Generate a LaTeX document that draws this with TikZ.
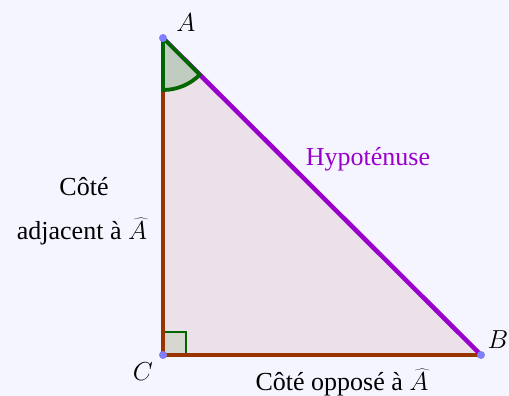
\RequirePackage{fix-cm}
\documentclass[tikz,border=0pt]{standalone}
\usepackage{fontspec}
\setmainfont{Liberation Serif}
\definecolor{bgc}{HTML}{F5F5FF}
\definecolor{trifill}{HTML}{ECE1E8}
\definecolor{sidec}{HTML}{993300}
\definecolor{hypc}{HTML}{9900CC}
\definecolor{angc}{HTML}{006600}
\definecolor{angfill}{HTML}{C0CCC0}
\definecolor{rafill}{HTML}{D6D6D0}
\definecolor{ptc}{HTML}{7F7FFF}
\begin{document}
\begin{tikzpicture}[x=1pt,y=-1pt,
  lbl/.style={anchor=base,inner sep=0pt,font=\fontsize{26}{31}\selectfont},
  side/.style={draw=sidec,line width=4.2pt},
  pt/.style={circle,fill=ptc,inner sep=0pt,minimum size=8pt}]
\fill[bgc] (0,0) rectangle (509,396);
\useasboundingbox (0,0) rectangle (509,396);
\coordinate (A) at (163,38);
\coordinate (B) at (481,355);
\coordinate (C) at (163,355);
\fill[trifill] (A) -- (B) -- (C) -- cycle;
\filldraw[fill=rafill,draw=angc,line width=1.6pt] (C) rectangle ++(23,-23);
\draw[side] (A) -- (C) -- (B);
\draw[hypc,line width=4.5pt] (A) -- (B);
\filldraw[fill=angfill,draw=angc,line width=3.8pt,line join=round] (A) -- ++(-90:52pt) arc[start angle=-90,end angle=-45,radius=52pt] -- cycle;
\node[pt] (pA) at (A) {};
\node[pt] (pB) at (B) {};
\node[pt] (pC) at (C) {};
\node[lbl] (lA) at (186,32) {$A$};
\node[lbl] (lB) at (498,348) {$B$};
\node[lbl] (lC) at (143,380) {$C$};
\node[lbl,text=hypc] (hyp) at (368,165) {Hypoténuse};
\node[lbl] (adj1) at (84,195) {Côté};
\node[lbl] (adj2) at (82,239) {adjacent à $\widehat{A}$};
\node[lbl] (opp) at (342,390) {Côté opposé à $\widehat{A}$};
\end{tikzpicture}
\end{document}
